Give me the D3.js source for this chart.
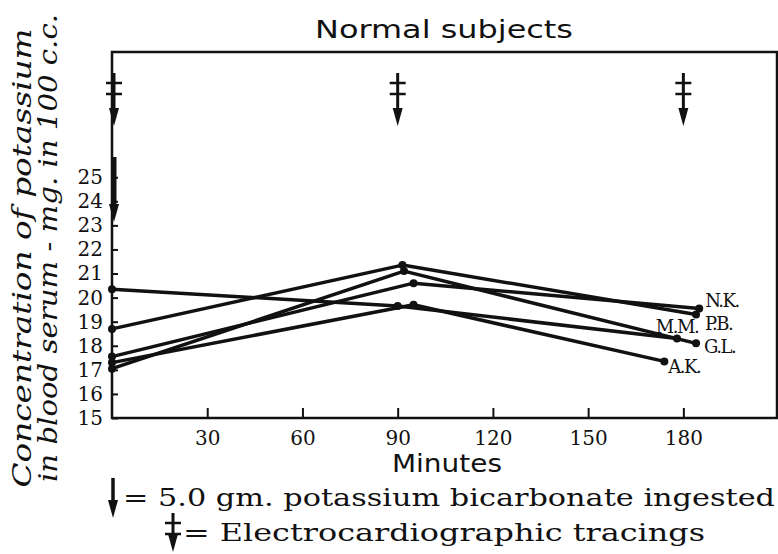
<!DOCTYPE html>
<html>
<head>
<meta charset="utf-8">
<script src="https://cdn.jsdelivr.net/npm/d3@7"></script>
<style>
  body { margin: 0; background: #fff; }
  text { fill: #111; }
</style>
</head>
<body>
<svg id="chart" width="778" height="554"></svg>
<script>
// subjects and their readings (minutes after ingestion, mg K per 100 c.c.)
const subjects = ["N.K.", "P.B.", "M.M.", "G.L.", "A.K."];
const nkMinutes = [0, 95, 185];
const nkValues = [17.55, 20.6, 19.55];
const pbMinutes = [0, 91.5, 184];
const pbValues = [18.7, 21.35, 19.3];
const mmMinutes = [0, 90, 178];
const mmValues = [20.35, 19.65, 18.3];
const glMinutes = [0, 92, 184];
const glValues = [17.05, 21.1, 18.1];
const akMinutes = [0, 95, 174];
const akValues = [17.3, 19.7, 17.35];

const xTicks = [30, 60, 90, 120, 150, 180];
const yTicks = [15, 16, 17, 18, 19, 20, 21, 22, 23, 24, 25];
const ecgTimes = [0, 90, 180];     // electrocardiographic tracings
const ingestTimes = [0];           // potassium bicarbonate ingested

const series = [
    { name: "N.K.", minutes: nkMinutes, values: nkValues },
    { name: "P.B.", minutes: pbMinutes, values: pbValues },
    { name: "M.M.", minutes: mmMinutes, values: mmValues },
    { name: "G.L.", minutes: glMinutes, values: glValues },
    { name: "A.K.", minutes: akMinutes, values: akValues }
];

// where each end label sits relative to its last point
const labelOffset = {
    "N.K.": { dx: 6, dy: -1, anchor: "start" },
    "P.B.": { dx: 9, dy: 16, anchor: "start" },
    "M.M.": { dx: 0, dy: -6, anchor: "middle" },
    "G.L.": { dx: 8, dy: 10, anchor: "start" },
    "A.K.": { dx: 4, dy: 12, anchor: "start" }
};

const svg = d3.select("#chart");
const plotLeft = 112, plotRight = 777, plotTop = 52, plotBottom = 418;
const ink = "#111";
const serif = "'DejaVu Serif', serif";
const sans = "'DejaVu Sans', sans-serif";

const xScale = d3.scaleLinear().domain([0, 209.5]).range([plotLeft, plotRight]);
const yScale = d3.scaleLinear().domain([15, 30.2]).range([plotBottom, plotTop]);

// frame
svg.append("rect")
    .attr("x", plotLeft).attr("y", plotTop)
    .attr("width", plotRight - plotLeft).attr("height", plotBottom - plotTop)
    .attr("fill", "none").attr("stroke", ink).attr("stroke-width", 2.5);

// axes (ticks point inward)
const yAxis = svg.append("g")
    .attr("transform", `translate(${plotLeft},0)`)
    .call(d3.axisLeft(yScale).tickValues(yTicks).tickSize(-6).tickPadding(9));
yAxis.select(".domain").remove();
yAxis.selectAll("line").attr("stroke", ink).attr("stroke-width", 2);
yAxis.selectAll("text")
    .attr("font-family", serif).attr("font-size", 20).attr("fill", ink);

const xAxis = svg.append("g")
    .attr("transform", `translate(0,${plotBottom})`)
    .call(d3.axisBottom(xScale).tickValues(xTicks).tickSize(-10).tickPadding(13));
xAxis.select(".domain").remove();
xAxis.selectAll("line").attr("stroke", ink).attr("stroke-width", 2);
xAxis.selectAll("text")
    .attr("font-family", serif).attr("font-size", 20).attr("fill", ink);

// subject lines
const line = d3.line()
    .x(d => xScale(d.minute))
    .y(d => yScale(d.value));

const points = s => s.minutes.map((m, i) => ({ minute: m, value: s.values[i] }));

svg.append("g").selectAll("path")
    .data(series)
    .join("path")
    .attr("d", d => line(points(d)))
    .attr("fill", "none")
    .attr("stroke", ink)
    .attr("stroke-width", 3.5)
    .attr("stroke-linejoin", "round");

svg.append("g").selectAll("circle")
    .data(series.flatMap(points))
    .join("circle")
    .attr("cx", d => xScale(d.minute))
    .attr("cy", d => yScale(d.value))
    .attr("r", 4)
    .attr("fill", ink);

svg.append("g").selectAll("text")
    .data(series)
    .join("text")
    .attr("x", d => xScale(d.minutes[2]) + labelOffset[d.name].dx)
    .attr("y", d => yScale(d.values[2]) + labelOffset[d.name].dy)
    .attr("text-anchor", d => labelOffset[d.name].anchor)
    .attr("font-family", serif)
    .attr("font-size", 18)
    .attr("letter-spacing", -1.5)
    .text(d => d.name);

// arrow glyphs
function plainArrow(g, x, y0, y1, w) {
    g.append("line")
        .attr("x1", x).attr("x2", x).attr("y1", y0).attr("y2", y1 - 10)
        .attr("stroke", ink).attr("stroke-width", w);
    g.append("path")
        .attr("d", `M${x - 5},${y1 - 18} L${x + 5},${y1 - 18} L${x},${y1} Z`)
        .attr("fill", ink);
}

function ecgArrow(g, x, y0, y1) {
    plainArrow(g, x, y0, y1, 3);
    [10, 21].forEach(off => {
        g.append("line")
            .attr("x1", x - 8).attr("x2", x + 8)
            .attr("y1", y0 + off).attr("y2", y0 + off)
            .attr("stroke", ink).attr("stroke-width", 2.5);
    });
}

const arrows = svg.append("g");
ecgTimes.forEach(t => ecgArrow(arrows, Math.max(xScale(t), plotLeft + 2), 73, 126));
ingestTimes.forEach(t => plainArrow(arrows, Math.max(xScale(t), plotLeft + 2), 157, 222, 5));

// titles
svg.append("text")
    .attr("x", 444).attr("y", 38)
    .attr("text-anchor", "middle")
    .attr("font-family", sans).attr("font-size", 24)
    .attr("textLength", 258).attr("lengthAdjust", "spacingAndGlyphs")
    .text("Normal subjects");

svg.append("text")
    .attr("x", 447).attr("y", 472)
    .attr("text-anchor", "middle")
    .attr("font-family", sans).attr("font-size", 24)
    .attr("textLength", 110).attr("lengthAdjust", "spacingAndGlyphs")
    .text("Minutes");

svg.append("text")
    .attr("transform", "translate(31,258) rotate(-90)")
    .attr("text-anchor", "middle")
    .attr("font-family", serif).attr("font-style", "italic").attr("font-size", 26)
    .attr("textLength", 459).attr("lengthAdjust", "spacingAndGlyphs")
    .text("Concentration of potassium");

svg.append("text")
    .attr("transform", "translate(57,248) rotate(-90)")
    .attr("text-anchor", "middle")
    .attr("font-family", serif).attr("font-style", "italic").attr("font-size", 26)
    .attr("textLength", 468).attr("lengthAdjust", "spacingAndGlyphs")
    .text("in blood serum - mg. in 100 c.c.");

// key
const key = svg.append("g");
plainArrow(key, 113, 478, 518, 3.5);
key.append("text")
    .attr("x", 123).attr("y", 506)
    .attr("font-family", serif).attr("font-size", 25)
    .attr("textLength", 652).attr("lengthAdjust", "spacingAndGlyphs")
    .text("= 5.0 gm. potassium bicarbonate ingested");
ecgArrow(key, 173, 513, 552);
key.append("text")
    .attr("x", 183).attr("y", 541)
    .attr("font-family", serif).attr("font-size", 25)
    .attr("textLength", 522).attr("lengthAdjust", "spacingAndGlyphs")
    .text("= Electrocardiographic tracings");
</script>
</body>
</html>
